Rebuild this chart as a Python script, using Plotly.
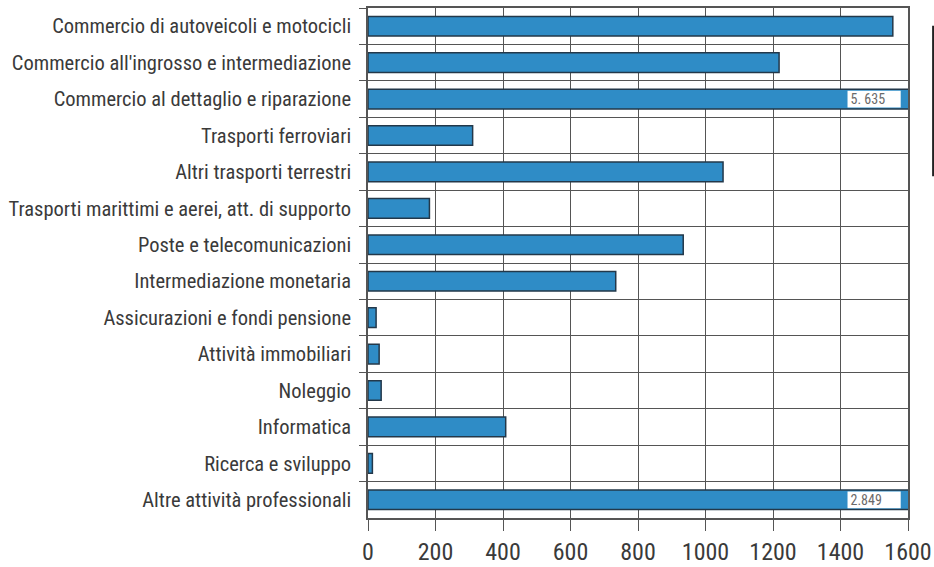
import plotly.graph_objects as go

categories = [
    "Commercio di autoveicoli e motocicli",
    "Commercio all'ingrosso e intermediazione",
    "Commercio al dettaglio e riparazione",
    "Trasporti ferroviari",
    "Altri trasporti terrestri",
    "Trasporti marittimi e aerei, att. di supporto",
    "Poste e telecomunicazioni",
    "Intermediazione monetaria",
    "Assicurazioni e fondi pensione",
    "Attività immobiliari",
    "Noleggio",
    "Informatica",
    "Ricerca e sviluppo",
    "Altre attività professionali",
]
values = [1555, 1218, 5635, 310, 1052, 182, 934, 734, 24, 33, 39, 408, 13, 2849]
value_labels = {2: "5. 635", 13: "2.849"}
x_ticks = [0, 200, 400, 600, 800, 1000, 1200, 1400, 1600]
x_max = 1600

font_family = "Roboto Condensed, Liberation Sans Narrow, DejaVu Sans Condensed, Arial Narrow, sans-serif"
bar_fill = "#2f8cc6"
bar_line = "#23384a"
grid_col = "#555555"
text_col = "#3a3a3a"

fig = go.Figure()
fig.add_trace(go.Bar(
    y=categories, x=values, orientation="h",
    width=0.54,
    marker=dict(color=bar_fill, line=dict(color=bar_line, width=1.5)),
    hoverinfo="x+y", showlegend=False,
))

# axis-break boxes for the bars exceeding the axis range
brk_cats = [categories[i] for i in value_labels]
brk_text = [value_labels[i] for i in value_labels]
brk_start = x_max * 0.888
brk_len = x_max * 0.0985
fig.add_trace(go.Bar(
    y=brk_cats, x=[brk_len] * len(brk_cats), base=[brk_start] * len(brk_cats),
    orientation="h", width=0.46,
    marker=dict(color="white", line=dict(width=0)),
    text=brk_text, textposition="inside", insidetextanchor="start",
    constraintext="none",
    textfont=dict(family=font_family, size=14, color="#6a6a6a"),
    hoverinfo="skip", showlegend=False,
))

fig.update_layout(
    barmode="overlay",
    width=934, height=567,
    margin=dict(l=368, r=26, t=8, b=49, autoexpand=False),
    paper_bgcolor="white", plot_bgcolor="white",
    font=dict(family=font_family, color=text_col),
    xaxis=dict(
        range=[0, x_max], tickvals=x_ticks, ticktext=[str(t) for t in x_ticks],
        showgrid=True, gridcolor=grid_col, gridwidth=1.2,
        showline=True, linecolor=grid_col, linewidth=1.5, mirror=True,
        ticks="outside", ticklen=11, tickcolor=grid_col, tickwidth=1.2,
        tickfont=dict(size=24, color=text_col), zeroline=False,
        automargin=False,
    ),
    yaxis=dict(
        categoryorder="array", categoryarray=categories, autorange="reversed",
        tickson="boundaries", showgrid=True, gridcolor=grid_col, gridwidth=1.2,
        showline=True, linecolor=grid_col, linewidth=1.5, mirror=True,
        ticks="outside", ticklen=7, tickcolor=grid_col, tickwidth=1.2,
        ticklabelstandoff=11,
        tickfont=dict(size=20.5, color=text_col),
        automargin=False,
    ),
    shapes=[dict(type="line", xref="paper", yref="paper",
                 x0=1.0465, x1=1.0465, y0=0.965, y1=0.67,
                 line=dict(color="#222222", width=2))],
)

fig.write_html(
    "out.html",
    config={"displayModeBar": False},
    post_script="document.body.style.margin='0';document.body.style.overflow='hidden';",
)
